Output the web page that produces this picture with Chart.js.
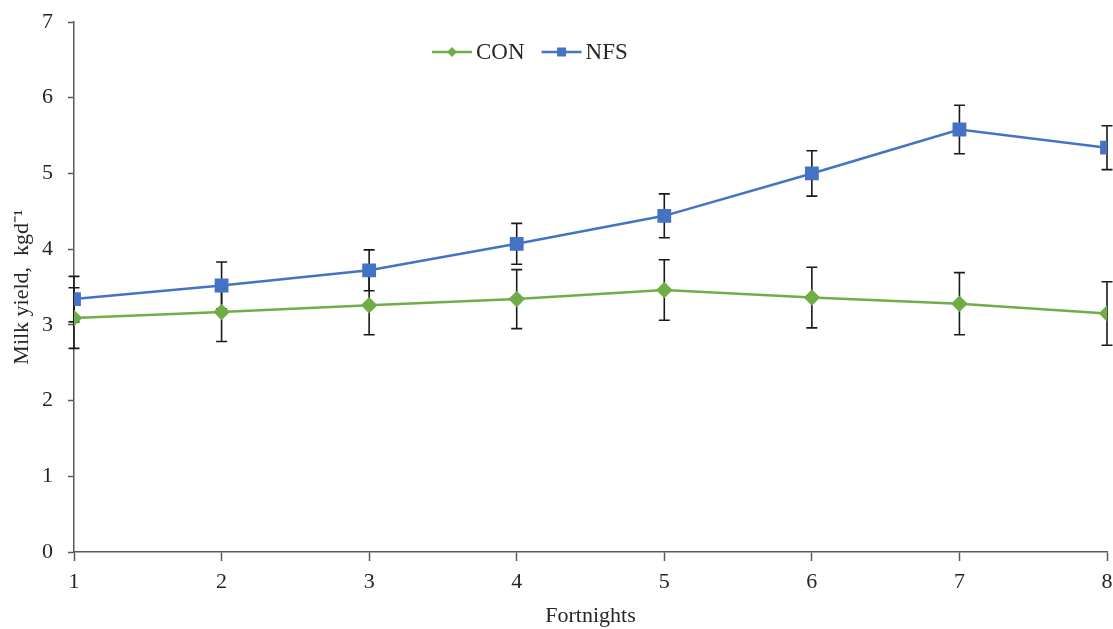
<!DOCTYPE html>
<html>
<head>
<meta charset="utf-8">
<script src="https://cdn.jsdelivr.net/npm/chart.js@4.4.0/dist/chart.umd.min.js"></script>
<style>
  body { margin: 0; background: #fff; }
  #wrap { width: 1113px; height: 629px; }
</style>
</head>
<body>
<div id="wrap"><canvas id="milkChart"></canvas></div>
<script>
// data
const fortnights = [1, 2, 3, 4, 5, 6, 7, 8];
const conYield = [3.09, 3.17, 3.26, 3.34, 3.46, 3.36, 3.28, 3.15];
const conErr   = [0.40, 0.39, 0.39, 0.39, 0.40, 0.40, 0.41, 0.42];
const nfsYield = [3.34, 3.52, 3.72, 4.07, 4.44, 5.00, 5.58, 5.34];
const nfsErr   = [0.30, 0.31, 0.27, 0.27, 0.29, 0.30, 0.32, 0.29];
const yTicks = [0, 1, 2, 3, 4, 5, 6, 7];

const green = "#70ad47";
const blue = "#4472c4";
const axisColor = "#595959";
const textColor = "#262626";
const serif = "'Liberation Serif', 'Times New Roman', serif";

const toPoints = (ys) => fortnights.map((x, i) => ({ x: x, y: ys[i] }));

// error bars, drawn under the lines/markers
const errorBars = {
  id: "errorBars",
  beforeDatasetsDraw(chart) {
    const { ctx, scales: { x, y } } = chart;
    ctx.save();
    ctx.strokeStyle = "#1a1a1a";
    ctx.lineWidth = 1.6;
    chart.data.datasets.forEach((ds) => {
      ds.data.forEach((p, i) => {
        const e = ds.errors[i];
        const px = x.getPixelForValue(p.x);
        const top = y.getPixelForValue(p.y + e);
        const bot = y.getPixelForValue(p.y - e);
        ctx.beginPath();
        ctx.moveTo(px, top); ctx.lineTo(px, bot);
        ctx.moveTo(px - 5.5, top); ctx.lineTo(px + 5.5, top);
        ctx.moveTo(px - 5.5, bot); ctx.lineTo(px + 5.5, bot);
        ctx.stroke();
      });
    });
    ctx.restore();
  }
};

// legend inside the plot, line + marker like the original
const insideLegend = {
  id: "insideLegend",
  afterDraw(chart) {
    const { ctx, chartArea } = chart;
    ctx.save();
    ctx.font = "23px " + serif;
    ctx.textBaseline = "middle";
    let xPos = chartArea.left + 358;
    const yPos = chartArea.top + 30;
    chart.data.datasets.forEach((ds) => {
      ctx.strokeStyle = ds.borderColor;
      ctx.lineWidth = 2.5;
      ctx.beginPath();
      ctx.moveTo(xPos, yPos); ctx.lineTo(xPos + 40, yPos);
      ctx.stroke();
      ctx.fillStyle = ds.borderColor;
      const cx = xPos + 20;
      ctx.beginPath();
      if (ds.pointStyle === "rectRot") {
        ctx.moveTo(cx, yPos - 5); ctx.lineTo(cx + 5, yPos);
        ctx.lineTo(cx, yPos + 5); ctx.lineTo(cx - 5, yPos);
      } else {
        ctx.rect(cx - 4.5, yPos - 4.5, 9, 9);
      }
      ctx.fill();
      ctx.fillStyle = textColor;
      ctx.fillText(ds.label, xPos + 44, yPos + 1);
      xPos += 44 + ctx.measureText(ds.label).width + 17;
    });
    ctx.restore();
  }
};

new Chart(document.getElementById("milkChart").getContext("2d"), {
  type: "line",
  data: {
    datasets: [
      {
        label: "CON",
        data: toPoints(conYield),
        errors: conErr,
        borderColor: green,
        backgroundColor: green,
        pointStyle: "rectRot",
        pointRadius: 6.5,
        borderWidth: 2.5,
        tension: 0
      },
      {
        label: "NFS",
        data: toPoints(nfsYield),
        errors: nfsErr,
        borderColor: blue,
        backgroundColor: blue,
        pointStyle: "rect",
        pointRadius: 8,
        borderWidth: 2.5,
        tension: 0
      }
    ]
  },
  options: {
    responsive: true,
    maintainAspectRatio: false,
    animation: false,
    layout: { autoPadding: false, padding: { top: 22, right: 6, left: 6, bottom: 0 } },
    plugins: {
      legend: { display: false },
      tooltip: { enabled: false }
    },
    scales: {
      x: {
        type: "linear",
        min: 1,
        max: 8,
        afterFit: (axis) => { axis.paddingRight = 0; axis.height = 77; },
        border: { color: axisColor, width: 1.5 },
        grid: { drawOnChartArea: false, tickLength: 9, color: axisColor, tickWidth: 1.5 },
        ticks: {
          stepSize: 1,
          padding: 8,
          color: textColor,
          font: { family: serif, size: 22 }
        },
        title: {
          display: true,
          text: "Fortnights",
          color: textColor,
          font: { family: serif, size: 22 },
          padding: { top: 6, bottom: 0 }
        }
      },
      y: {
        min: 0,
        max: 7,
        afterBuildTicks: (axis) => { axis.ticks = yTicks.map((v) => ({ value: v })); },
        afterFit: (axis) => { axis.width = 68; axis.paddingTop = 0; },
        border: { color: axisColor, width: 1.5 },
        grid: { drawOnChartArea: false, tickLength: 6, color: axisColor, tickWidth: 1.5 },
        ticks: {
          padding: 15,
          color: textColor,
          font: { family: serif, size: 22 }
        },
        title: {
          display: true,
          text: "Milk yield,  kgd\u207B\u00B9",
          color: textColor,
          font: { family: serif, size: 22 },
          padding: { top: 3, bottom: 6 }
        }
      }
    }
  },
  plugins: [errorBars, insideLegend]
});
</script>
</body>
</html>
